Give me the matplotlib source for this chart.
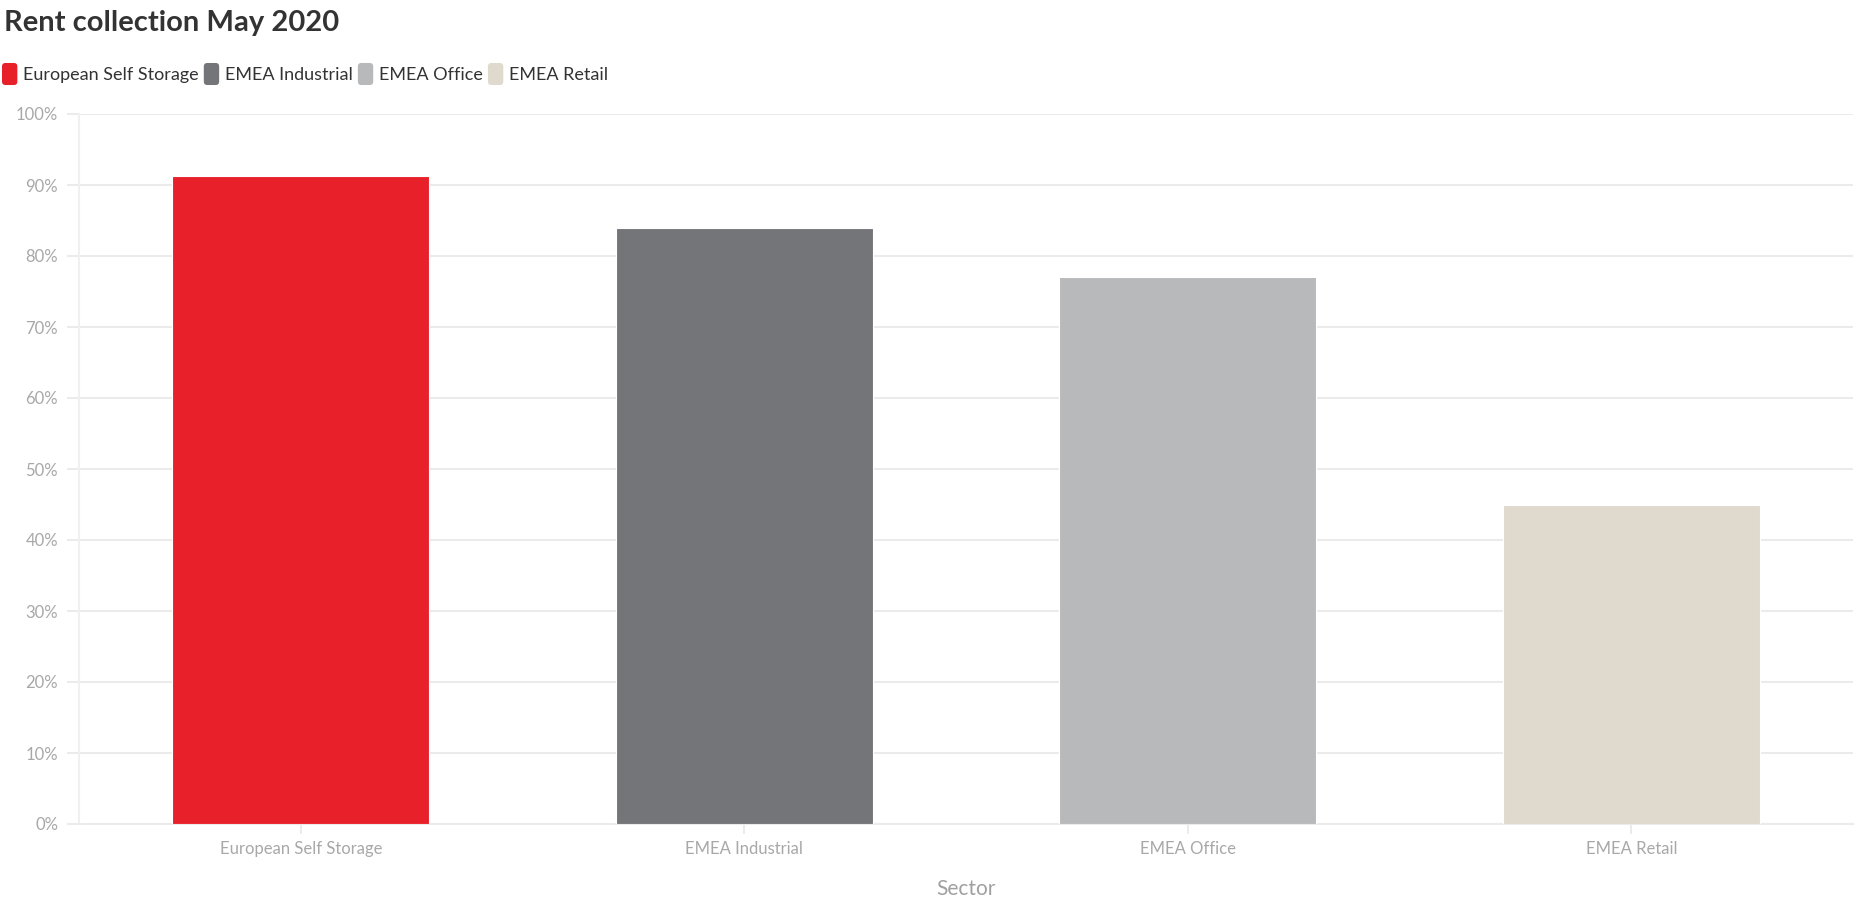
import matplotlib
matplotlib.use("Agg")
import matplotlib.pyplot as plt
from matplotlib.patches import Patch, FancyBboxPatch
from matplotlib.legend_handler import HandlerPatch
from matplotlib.ticker import FuncFormatter, MultipleLocator

categories = ["European Self Storage", "EMEA Industrial", "EMEA Office", "EMEA Retail"]
values = [91.3, 84.0, 77.0, 45.0]
colors = ["#E8202A", "#747579", "#B8B9BB", "#E0D9CD"]
title = "Rent collection May 2020"
xlabel = "Sector"

plt.rcParams['font.family'] = ['Lato', 'DejaVu Sans']

W, H = 1857, 906
fig = plt.figure(figsize=(W / 100, H / 100), dpi=100)
ax = fig.add_axes([79 / W, (H - 824) / H, (1853 - 79) / W, (824 - 114) / H])

x = list(range(len(categories)))
ax.bar(x, values, width=0.58, color=colors, edgecolor="#ffffff", linewidth=0.8, zorder=3)

ax.set_xlim(-0.5, len(categories) - 0.5)
ax.set_ylim(0, 100)
ax.yaxis.set_major_locator(MultipleLocator(10))
ax.yaxis.set_major_formatter(FuncFormatter(lambda v, p: f"{int(v)}%"))
ax.set_xticks(x)
ax.set_xticklabels(categories)

ax.grid(axis='y', color="#EBEBEB", linewidth=1.5, zorder=0)
for s in ['top', 'right']:
    ax.spines[s].set_visible(False)
ax.spines['left'].set_color("#F0F0F0")
ax.spines['left'].set_linewidth(1.5)
ax.spines['bottom'].set_color("#EBEBEB")
ax.spines['bottom'].set_linewidth(1.5)

ax.tick_params(axis='y', length=9, width=1.5, color="#EBEBEB", labelcolor="#A8A8A8",
               labelsize=12, pad=6)
ax.tick_params(axis='x', length=7, width=1.5, color="#EBEBEB", labelcolor="#A8A8A8",
               labelsize=12, pad=5)

ax.set_xlabel(xlabel, fontsize=15, color="#A0A0A0", labelpad=16)

fig.text(4 / W, 1 - 23 / H, title, fontsize=21, fontweight='bold', color="#333333",
         va='center', ha='left')


class RoundHandler(HandlerPatch):
    def create_artists(self, legend, orig_handle, xdescent, ydescent, width, height,
                       fontsize, trans):
        p = FancyBboxPatch((-xdescent, -ydescent), width, height,
                           boxstyle="round,pad=0,rounding_size=2.5",
                           facecolor=orig_handle.get_facecolor(), edgecolor='none',
                           transform=trans)
        return [p]


handles = [Patch(facecolor=c, edgecolor='none') for c in colors]
leg = fig.legend(handles, categories, loc='center left',
                 bbox_to_anchor=(2 / W, 1 - 74 / H), ncol=4, frameon=False,
                 handlelength=0.85, handleheight=1.5, handletextpad=0.3,
                 columnspacing=0.3, fontsize=13, borderaxespad=0, borderpad=0,
                 handler_map={Patch: RoundHandler()})
for t in leg.get_texts():
    t.set_color("#333333")

fig.savefig("out.png", dpi=100, facecolor="white")
